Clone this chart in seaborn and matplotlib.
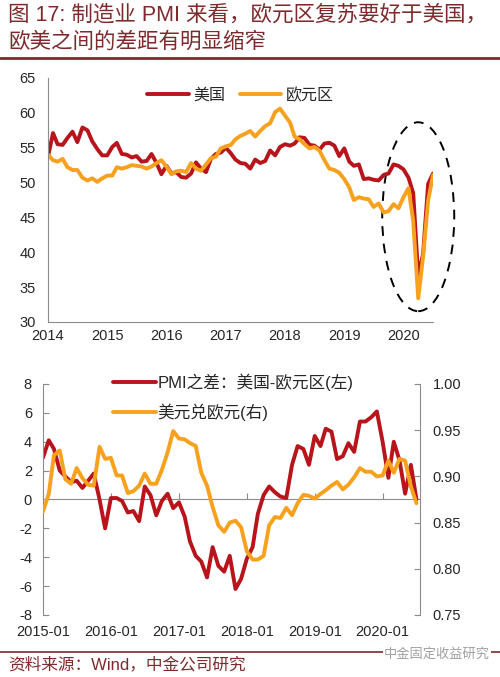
import pandas as pd
import matplotlib
matplotlib.use("Agg")
import matplotlib.pyplot as plt
import matplotlib.dates as mdates
import matplotlib.ticker as mticker
from matplotlib.patches import Ellipse
from matplotlib.lines import Line2D
import seaborn as sns

# ---- data ----
# manufacturing PMI, monthly 2014-01 .. 2020-07
pmi_us = [53.7, 57.1, 55.5, 55.4, 56.4, 57.3, 55.8, 57.9, 57.5, 55.9, 54.8, 53.9,
          53.9, 55.1, 55.7, 54.1, 54.0, 53.6, 53.8, 53.0, 53.1, 54.1, 52.8, 51.2,
          52.4, 51.3, 51.5, 50.8, 50.7, 51.3, 52.9, 52.0, 51.5, 53.4, 54.1, 54.3,
          55.0, 54.2, 53.3, 52.8, 52.7, 52.0, 53.3, 52.8, 53.1, 54.6, 53.9, 55.1,
          55.5, 55.3, 55.6, 56.5, 56.4, 55.4, 55.3, 54.7, 55.6, 55.7, 55.3, 53.8,
          54.9, 53.0, 52.4, 52.6, 50.5, 50.6, 50.4, 50.3, 51.1, 51.3, 52.6, 52.4,
          51.9, 50.7, 48.5, 36.5, 39.8, 49.8, 51.3]
pmi_ez = [54.0, 53.2, 53.0, 53.4, 52.2, 51.8, 51.8, 50.7, 50.3, 50.6, 50.1, 50.6,
          51.0, 51.0, 52.2, 52.0, 52.2, 52.5, 52.4, 52.3, 52.0, 52.3, 52.8, 53.2,
          52.3, 51.2, 51.6, 51.7, 51.5, 52.8, 52.0, 51.7, 52.6, 53.5, 53.7, 54.9,
          55.2, 55.4, 56.2, 56.7, 57.0, 57.4, 56.6, 57.4, 58.1, 58.5, 60.1, 60.6,
          59.6, 58.6, 56.6, 56.2, 55.5, 54.9, 55.1, 54.6, 53.2, 52.0, 51.8, 51.4,
          50.5, 49.3, 47.5, 47.9, 47.7, 47.6, 46.5, 47.0, 45.7, 45.9, 46.9, 46.3,
          47.9, 49.2, 44.5, 33.4, 39.4, 47.4, 51.1]

# bottom panel, monthly 2015-01 .. 2020-07
pmi_diff = [2.9, 4.1, 3.5, 2.0, 1.6, 1.2, 1.3, 0.8, 1.3, 1.8, 0.0, -2.0,
            0.1, 0.1, -0.1, -0.9, -0.8, -1.5, 0.9, 0.3, -1.1, -0.1, 0.4, -0.6,
            -0.2, -1.2, -2.9, -3.9, -4.3, -5.4, -3.3, -4.6, -5.0, -3.9, -6.2, -5.5,
            -4.1, -3.3, -1.0, 0.3, 0.9, 0.5, 0.2, 0.1, 2.4, 3.7, 3.5, 2.4,
            4.4, 3.7, 4.9, 4.7, 2.8, 3.0, 3.9, 3.3, 5.4, 5.4, 5.7, 6.1,
            4.0, 1.5, 4.0, 2.7, 0.4, 2.4, 0.0]
usd_eur = [0.862, 0.881, 0.923, 0.928, 0.897, 0.892, 0.909, 0.898, 0.891, 0.890, 0.932, 0.919,
           0.920, 0.901, 0.901, 0.882, 0.884, 0.890, 0.903, 0.892, 0.892, 0.907, 0.926, 0.949,
           0.941, 0.940, 0.936, 0.933, 0.904, 0.890, 0.867, 0.847, 0.840, 0.850, 0.852, 0.845,
           0.819, 0.810, 0.810, 0.814, 0.847, 0.856, 0.855, 0.866, 0.858, 0.871, 0.880, 0.879,
           0.876, 0.881, 0.885, 0.890, 0.894, 0.886, 0.891, 0.899, 0.909, 0.905, 0.905, 0.900,
           0.901, 0.917, 0.904, 0.919, 0.917, 0.889, 0.871]

top_dates = pd.date_range("2014-01-01", periods=len(pmi_us), freq="MS")
bot_dates = pd.date_range("2015-01-01", periods=len(pmi_diff), freq="MS")

RED = "#B8141B"
ORANGE = "#F7A11E"
GRAY = "#8C8C8C"
TITLE_C = "#7E2A2C"

sns.set_style("white")
plt.rcParams["font.family"] = ["Liberation Sans", "Noto Sans CJK SC", "DejaVu Sans"]
plt.rcParams["axes.unicode_minus"] = False

fig = plt.figure(figsize=(5.0, 6.77), dpi=100)

# title + rules
fig.text(0.016, 1 - 15 / 677, "图 17: 制造业 PMI 来看，欧元区复苏要好于美国，",
         color=TITLE_C, fontsize=15.5, va="center", ha="left")
fig.text(0.016, 1 - 42 / 677, "欧美之间的差距有明显缩窄",
         color=TITLE_C, fontsize=15.5, va="center", ha="left")
fig.add_artist(Line2D([0, 1], [1 - 57.5 / 677] * 2, color=TITLE_C, lw=2))

# =====================================================
# top chart: PMI levels
# =====================================================
ax1 = fig.add_axes([0.096, 0.5244, 0.77, 0.3604])
sns.lineplot(x=top_dates, y=pmi_us, ax=ax1, color=RED, lw=2.8, label="美国")
sns.lineplot(x=top_dates, y=pmi_ez, ax=ax1, color=ORANGE, lw=2.8, label="欧元区")

ax1.set_ylim(30, 65)
ax1.set_yticks(range(30, 66, 5))
ax1.set_xlim(top_dates[0], top_dates[-1])
ax1.xaxis.set_major_locator(mdates.YearLocator())
ax1.xaxis.set_major_formatter(mdates.DateFormatter("%Y"))
ax1.set_xlabel("")
ax1.set_ylabel("")
for s in ["top", "right"]:
    ax1.spines[s].set_visible(False)
for s in ["left", "bottom"]:
    ax1.spines[s].set_color(GRAY)
ax1.tick_params(axis="both", direction="in", length=4, color=GRAY, labelsize=10.5)
ax1.tick_params(axis="y", pad=9)
ax1.tick_params(axis="x", pad=5)

ax1.legend(loc="upper left", bbox_to_anchor=(0.22, 1.02), ncol=2, frameon=False,
           fontsize=11.5, handlelength=2.6, handletextpad=0.3, columnspacing=0.9)

ell = Ellipse((mdates.date2num(pd.Timestamp("2020-04-01")), 45.1), width=444, height=27.1,
              fill=False, ls=(0, (5, 4)), lw=1.4, ec="black", clip_on=False)
ax1.add_patch(ell)

# =====================================================
# bottom chart: PMI gap vs USD/EUR
# =====================================================
ax2 = fig.add_axes([0.086, 0.0916, 0.754, 0.3412])
ax3 = ax2.twinx()
sns.lineplot(x=bot_dates, y=pmi_diff, ax=ax2, color=RED, lw=2.8, legend=False)
sns.lineplot(x=bot_dates, y=usd_eur, ax=ax3, color=ORANGE, lw=2.8, legend=False)

ax2.set_ylim(-8, 8)
ax2.set_yticks(range(-8, 9, 2))
ax3.set_ylim(0.75, 1.0)
ax3.set_yticks([0.75, 0.80, 0.85, 0.90, 0.95, 1.00])
ax3.yaxis.set_major_formatter(mticker.FormatStrFormatter("%.2f"))
ax2.set_xlim(bot_dates[0], pd.Timestamp("2020-07-20"))
ax2.xaxis.set_major_locator(mdates.YearLocator())
ax2.xaxis.set_major_formatter(mdates.DateFormatter("%Y-%m"))
for a in (ax2, ax3):
    a.set_xlabel("")
    a.set_ylabel("")
    for s in ["top", "bottom"]:
        a.spines[s].set_visible(False)
ax2.spines["right"].set_visible(False)
ax3.spines["left"].set_visible(False)
ax2.spines["left"].set_color(GRAY)
ax3.spines["right"].set_color(GRAY)
ax2.tick_params(axis="y", direction="in", length=4, color=GRAY, labelsize=10.5, pad=8)
ax3.tick_params(axis="y", direction="in", length=4, color=GRAY, labelsize=10.5, pad=9)
ax2.tick_params(axis="x", length=0, labelsize=10.5, pad=7.5)

# zero line with small ticks
zero = ax2.secondary_xaxis(0.5)
zero.spines["top"].set_color(GRAY)
zero.set_xticks(mdates.date2num(pd.date_range("2015-01-01", "2020-01-01", freq="YS")))
zero.tick_params(axis="x", direction="out", length=4, color=GRAY, labeltop=False, labelbottom=False)

handles = [Line2D([], [], color=RED, lw=2.8), Line2D([], [], color=ORANGE, lw=2.8)]
ax3.legend(handles, ["PMI之差：美国-欧元区(左)", "美元兑欧元(右)"], loc="upper left",
           bbox_to_anchor=(0.145, 1.11), frameon=False, fontsize=12,
           handlelength=2.6, handletextpad=0.1, labelspacing=0.75)

# footer
fig.add_artist(Line2D([0, 1], [1 - 652 / 677] * 2, color=TITLE_C, lw=1.2))
fig.text(0.016, 1 - 664 / 677, "资料来源：Wind，中金公司研究", color=TITLE_C,
         fontsize=12, va="center", ha="left")
fig.text(0.98, 1 - 654 / 677, "中金固定收益研究", color="#A0A0A0", fontsize=9.5,
         va="center", ha="right",
         bbox=dict(facecolor="white", edgecolor="none", pad=1))

fig.savefig("out.png", dpi=100)
plt.close(fig)
